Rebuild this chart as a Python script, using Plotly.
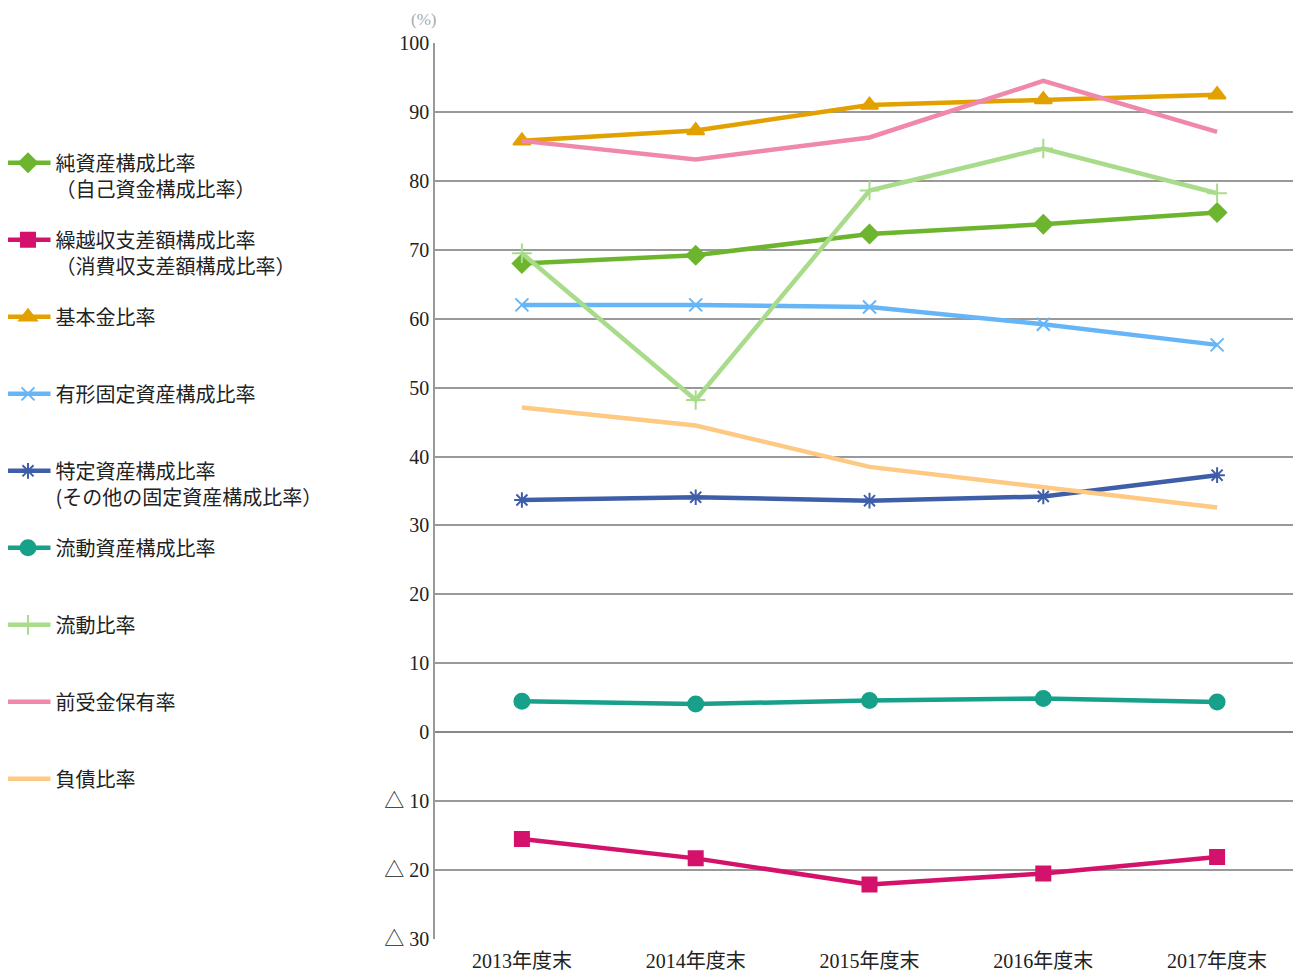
import plotly.graph_objects as go

years = ["2013年度末", "2014年度末", "2015年度末", "2016年度末", "2017年度末"]

net_assets = [68.0, 69.2, 72.3, 73.7, 75.4]
carryover = [-15.5, -18.3, -22.1, -20.5, -18.1]
basic_fund = [85.8, 87.3, 91.0, 91.8, 92.5]
tangible_fixed = [62.0, 62.0, 61.7, 59.2, 56.2]
specified_assets = [33.7, 34.1, 33.6, 34.2, 37.3]
current_assets = [4.5, 4.1, 4.6, 4.9, 4.4]
current_ratio = [69.5, 48.2, 78.6, 84.7, 78.2]
advance_received = [85.8, 83.1, 86.3, 94.5, 87.1]
debt_ratio = [47.1, 44.5, 38.5, 35.5, 32.6]

tick_vals = [100, 90, 80, 70, 60, 50, 40, 30, 20, 10, 0, -10, -20, -30]
tick_text = ["100", "90", "80", "70", "60", "50", "40", "30", "20", "10", "0",
             "△ 10", "△ 20", "△ 30"]

series = [
    ("純資産構成比率<br>（自己資金構成比率）", net_assets, "#6db52e", "diamond", 14),
    ("繰越収支差額構成比率<br>（消費収支差額構成比率）", carryover, "#d4126b", "square", 14),
    ("基本金比率<br> ", basic_fund, "#e2a100", "triangle-up", 15),
    ("有形固定資産構成比率<br> ", tangible_fixed, "#66b6f7", "x-thin", 13),
    ("特定資産構成比率<br>(その他の固定資産構成比率）", specified_assets, "#3f5ea8", "asterisk", 13),
    ("流動資産構成比率<br> ", current_assets, "#17a08a", "circle", 15),
    ("流動比率<br> ", current_ratio, "#a8dc8a", "cross-thin", 14),
    ("前受金保有率<br> ", advance_received, "#ef88aa", None, 0),
    ("負債比率<br> ", debt_ratio, "#fdc983", None, 0),
]

fig = go.Figure()
for i, (name, vals, color, sym, size) in enumerate(series):
    marker = dict(color=color, size=size, line=dict(color=color, width=2))
    if sym:
        marker["symbol"] = sym
    fig.add_trace(go.Scatter(
        x=years, y=vals, name=name, legendgroup=str(i),
        mode="lines+markers" if sym else "lines",
        line=dict(color=color, width=4.5),
        marker=marker,
    ))

serif = "Liberation Serif, Noto Sans CJK JP"
fig.update_layout(
    width=1301, height=979,
    paper_bgcolor="white", plot_bgcolor="white",
    margin=dict(l=427, r=5, t=35, b=48, autoexpand=False),
    font=dict(family="Noto Sans CJK JP", size=20, color="#222"),
    legend=dict(x=-0.5, xanchor="left", y=0.888, yanchor="top",
                traceorder="grouped", tracegroupgap=22, valign="top",
                itemwidth=45, font=dict(size=20)),
    xaxis=dict(range=[-0.5, 4.5], showline=False, showgrid=False, ticks="",
               ticklabelstandoff=8, tickfont=dict(family=serif, size=20)),
    yaxis=dict(range=[-30, 100], tickvals=tick_vals, ticktext=tick_text,
               showgrid=True, gridcolor="#999", gridwidth=1.5,
               showline=True, linecolor="#999", linewidth=1.5,
               zeroline=True, zerolinecolor="#888", zerolinewidth=1.5,
               tickfont=dict(family=serif, size=20)),
    annotations=[dict(text="(%)", xref="paper", yref="paper", x=-0.03, y=1.0,
                      yanchor="bottom", yshift=12, showarrow=False,
                      font=dict(family="Liberation Serif", size=17, color="#aaa"))],
)

fig.write_html("out.html")
